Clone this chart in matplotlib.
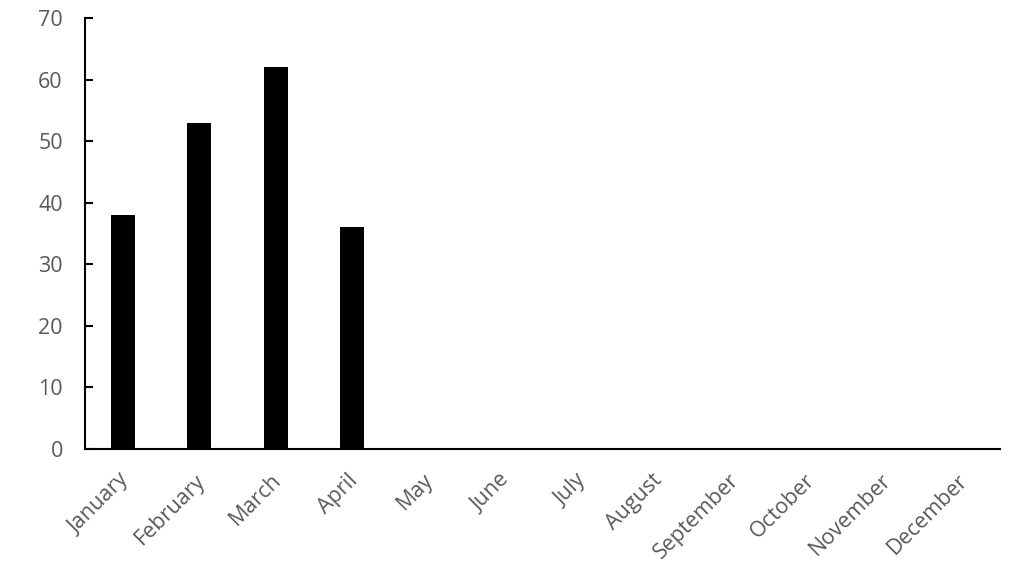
import matplotlib.pyplot as plt
from matplotlib.transforms import ScaledTranslation

months = ['January', 'February', 'March', 'April', 'May', 'June', 'July',
          'August', 'September', 'October', 'November', 'December']
values = [38, 53, 62, 36, 0, 0, 0, 0, 0, 0, 0, 0]

plt.rcParams['font.family'] = ['Open Sans', 'DejaVu Sans']
grey = '#595959'

fig = plt.figure(figsize=(10.24, 5.73), dpi=100)
ax = fig.add_axes([0.083, 0.2164, 0.8936, 0.7522])

x = range(len(months))
ax.bar(x, values, width=0.315, color='black')

ax.set_xlim(-0.5, 11.5)
ax.set_ylim(0, 70)
ax.set_yticks(range(0, 71, 10))
ax.set_xticks(list(x))
ax.set_xticklabels(months, rotation=45, ha='right', rotation_mode='anchor')

ax.spines['top'].set_visible(False)
ax.spines['right'].set_visible(False)
ax.spines['left'].set_linewidth(1.5)
ax.spines['bottom'].set_linewidth(1.5)
ax.tick_params(axis='y', direction='in', length=6, width=1.5, pad=16,
               labelsize=15.5, labelcolor=grey)
ax.tick_params(axis='x', length=0, pad=15, labelsize=15.5, labelcolor=grey)

shift = ScaledTranslation(-5 / 100, 0, fig.dpi_scale_trans)
for lab in ax.get_xticklabels():
    lab.set_transform(lab.get_transform() + shift)

fig.savefig('out.png', dpi=100)
